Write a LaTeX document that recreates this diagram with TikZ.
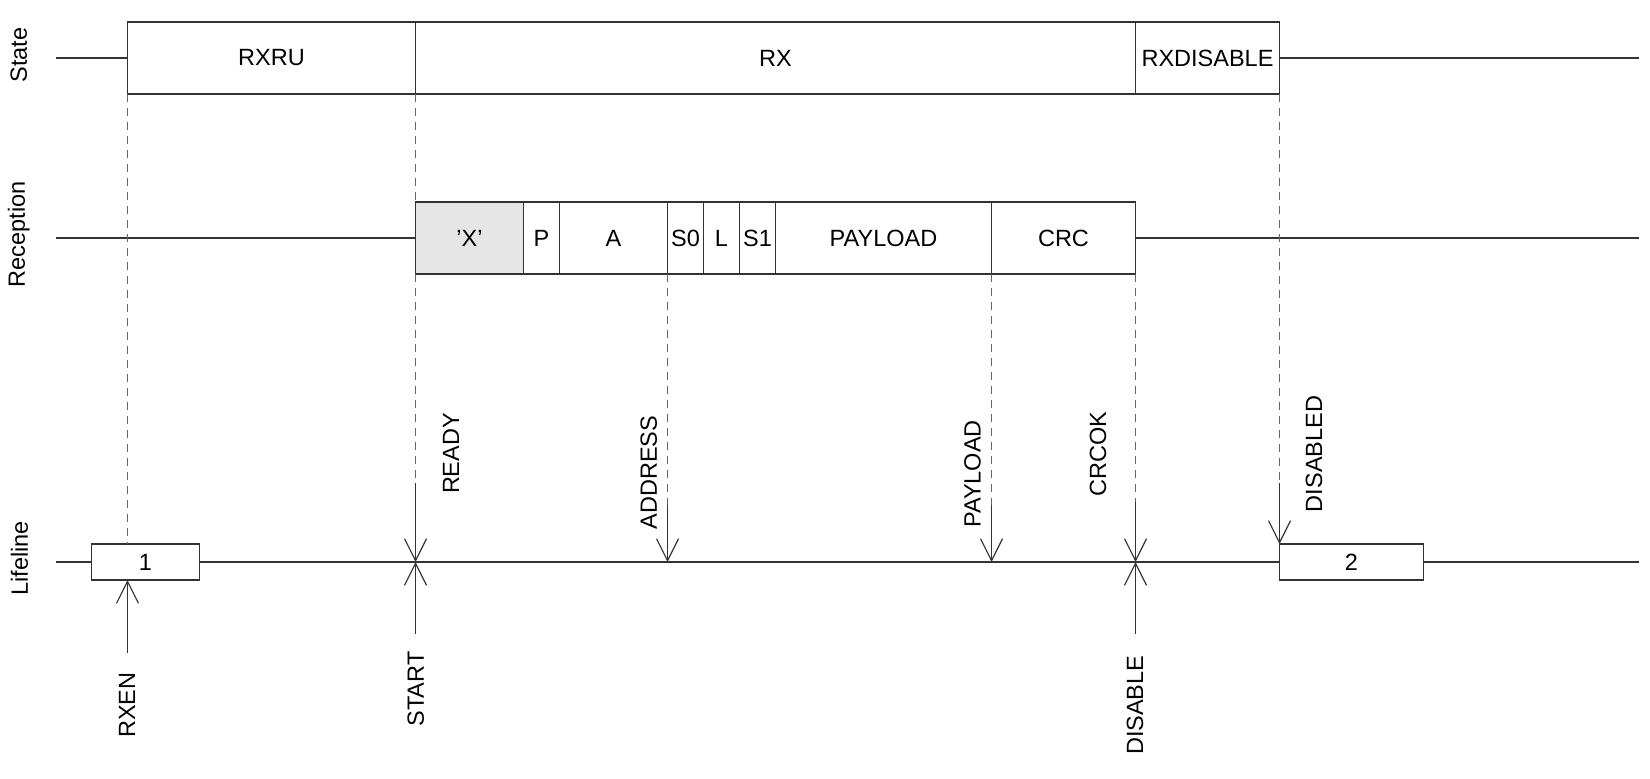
\documentclass[tikz,border=0pt]{standalone}
\usepackage{fontspec}
\setmainfont{Liberation Sans}
\usepackage{xcolor}
\usepackage{tikz}
\usetikzlibrary{arrows.meta}
\usetikzlibrary{calc}

\definecolor{linegray}{HTML}{333333}
\definecolor{guidegray}{HTML}{666666}
\definecolor{fieldgray}{HTML}{E6E6E6}

\tikzset{
    cell/.style={draw=linegray,line width=1.2pt,fill=white,minimum height=72pt,inner sep=0pt,outer sep=0pt,anchor=north west},
    lifebox/.style={cell,minimum height=36pt},
    guide/.style={draw=guidegray,line width=1.2pt,dash pattern=on 8pt off 6pt},
    trace/.style={draw=linegray,line width=1.2pt},
    event/.style={trace,-{Straight Barb[length=22pt,width=22pt]}},
    sig/.style={rotate=90,inner sep=0pt},
}

\begin{document}
\begin{tikzpicture}[x=1pt,y=-1pt,font=\fontsize{23.5}{28}\selectfont]
    \useasboundingbox (0,0) rectangle (1650,779);

    % row ends
    \coordinate (sl) at (55.5,58);
    \coordinate (sr) at (1639,58);
    \coordinate (rl) at (55.5,238);
    \coordinate (rr) at (1639,238);
    \coordinate (ll) at (55.5,562);
    \coordinate (lr) at (1639,562);

    % state
    \node[cell,minimum width=288pt] (rxru) at (127.5,22) {RXRU};
    \node[cell,minimum width=720pt] (rx) at (rxru.north east) {RX};
    \node[cell,minimum width=144pt] (rxdis) at (rx.north east) {RXDISABLE};

    % reception
    \node[cell,minimum width=108pt,fill=fieldgray] (fx) at (415.5,202) {'X'};
    \node[cell,minimum width=36pt] (fp) at (fx.north east) {P};
    \node[cell,minimum width=108pt] (fa) at (fp.north east) {A};
    \node[cell,minimum width=36pt] (fs0) at (fa.north east) {S0};
    \node[cell,minimum width=36pt] (fl) at (fs0.north east) {L};
    \node[cell,minimum width=36pt] (fs1) at (fl.north east) {S1};
    \node[cell,minimum width=216pt] (fpay) at (fs1.north east) {PAYLOAD};
    \node[cell,minimum width=144pt] (fcrc) at (fpay.north east) {CRC};

    % lifeline
    \node[lifebox,minimum width=108pt] (b1) at (91.5,544) {1};
    \node[lifebox,minimum width=144pt] (b2) at (1279.5,544) {2};

    \draw[trace] (sl) -- (rxru.west);
    \draw[trace] (rxdis.east) -- (sr);
    \draw[trace] (rl) -- (fx.west);
    \draw[trace] (fcrc.east) -- (rr);
    \draw[trace] (ll) -- (b1.west);
    \draw[trace] (b1.east) -- (b2.west);
    \draw[trace] (b2.east) -- (lr);

    \coordinate (eready) at (fx.south west |- ll);
    \coordinate (eaddr) at (fa.south east |- ll);
    \coordinate (epay) at (fpay.south east |- ll);
    \coordinate (ecrc) at (fcrc.south east |- ll);
    \coordinate (erxen) at (rxru.south west |- b1.south);

    \coordinate (tready) at (415.5,483);
    \coordinate (taddr) at (667.5,505);
    \coordinate (tpay) at (991.5,505);
    \coordinate (tcrc) at (1135.5,502);
    \coordinate (tdis) at (1279.5,483);

    \coordinate (brxen) at (127.5,653);
    \coordinate (bstart) at (415.5,634);
    \coordinate (bdisable) at (1135.5,634);

    % guides
    \draw[guide] (rxru.south west) -- (rxru.south west |- b1.north);
    \draw[guide] (rx.south west) -- (fx.north west);
    \draw[guide] (fx.south west) -- (tready);
    \draw[guide] (fa.south east) -- (taddr);
    \draw[guide] (fpay.south east) -- (tpay);
    \draw[guide] (fcrc.south east) -- (tcrc);
    \draw[guide] (rxdis.south east) -- (tdis);

    % events
    \draw[event] (tready) -- (eready);
    \draw[event] (taddr) -- (eaddr);
    \draw[event] (tpay) -- (epay);
    \draw[event] (tcrc) -- (ecrc);
    \draw[event] (tdis) -- (b2.north west);
    \draw[event] (brxen) -- (erxen);
    \draw[event] (bstart) -- (eready);
    \draw[event] (bdisable) -- (ecrc);

    % labels
    \node[sig] (lstate) at (18.8,55) {State};
    \node[sig] (lrecep) at (18.8,234.5) {Reception};
    \node[sig] (llife) at (19.5,558.3) {Lifeline};

    \node[sig] (lready) at (451,453.5) {READY};
    \node[sig] (laddr) at (648.7,472.5) {ADDRESS};
    \node[sig] (lpay) at (972.5,474) {PAYLOAD};
    \node[sig] (lcrcok) at (1098,454) {CRCOK};
    \node[sig] (ldisabled) at (1314,454) {DISABLED};

    \node[sig] (lrxen) at (127,705) {RXEN};
    \node[sig] (lstart) at (415.7,689) {START};
    \node[sig] (ldisable) at (1135,705.3) {DISABLE};
\end{tikzpicture}
\end{document}
